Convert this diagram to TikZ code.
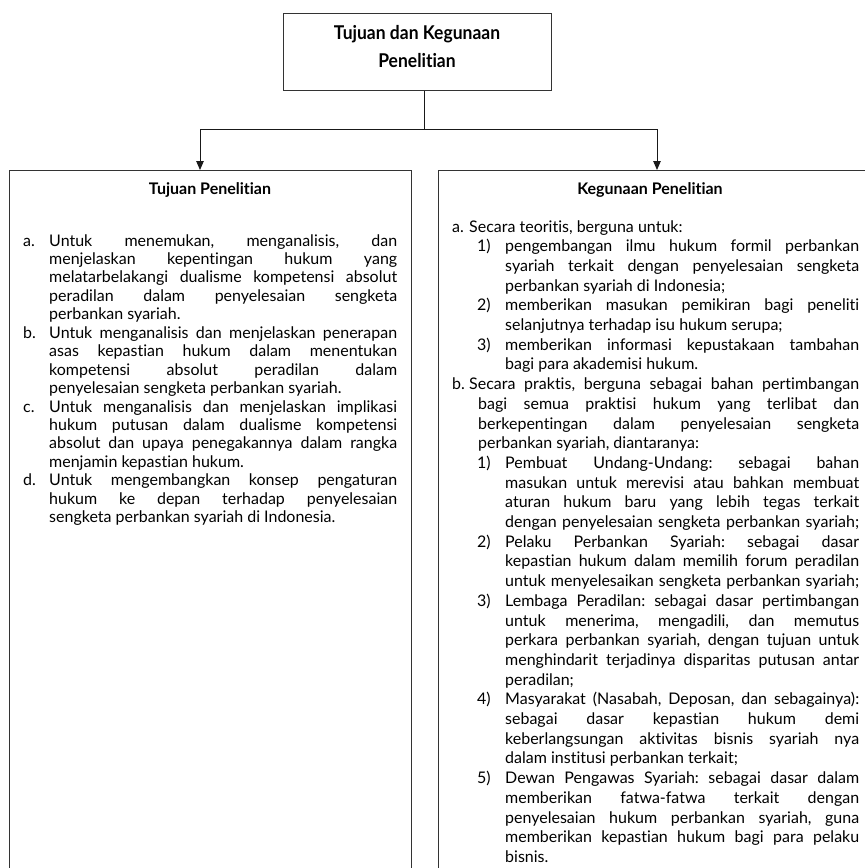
\documentclass[tikz,border=0pt]{standalone}
\usepackage{fontspec}
\setmainfont{Lato}[Ligatures={NoCommon,NoRare}]
\newfontfamily\titlefont{Lato}[FakeStretch=0.92,Ligatures={NoCommon,NoRare}]
\usetikzlibrary{arrows.meta}
\newcommand\lfont{\fontsize{16}{18.45}\selectfont\frenchspacing}
\newcommand\rfont{\fontsize{16}{19.7}\selectfont\frenchspacing}
\newcommand\J[3]{\noindent\hspace*{#1}\makebox[#2][s]{#3}\par}
\newcommand\N[2]{\noindent\hspace*{#1}#2\par}
\newcommand\Lb[2]{\llap{\makebox[#1][l]{#2}}}
\begin{document}
\begin{tikzpicture}[x=1pt,y=-1pt,
  framebox/.style={draw=black!80, line width=1.1pt, anchor=north west, inner sep=0pt},
  conn/.style={draw=black!90, line width=0.9pt},
  arr/.style={conn, -{Triangle[length=9pt,width=7.5pt]}},
  txt/.style={anchor=base west, inner sep=0pt},
  head/.style={anchor=base, inner sep=0pt, font=\fontsize{16}{19}\selectfont\bfseries}]
\useasboundingbox (0,0) rectangle (865,868);
\clip (0,0) rectangle (865,868);
\fill[white] (0,0) rectangle (865,868);

% boxes
\node[framebox, minimum width=268pt, minimum height=77pt] (top) at (283,13) {};
\node[framebox, minimum width=402pt, minimum height=720pt] (left) at (9,170) {};
\node[framebox, minimum width=430pt, minimum height=720pt] (right) at (438,170) {};

% title
\node[anchor=base, inner sep=0pt] (title) at (417,39)
  {\parbox[t]{250pt}{\centering\titlefont\bfseries\fontsize{19}{28.5}\selectfont Tujuan dan Kegunaan\\Penelitian}};

% connectors
\coordinate (junc) at (424,129);
\coordinate (jl) at (200,129);
\coordinate (jr) at (657,129);
\draw[conn] (top.south -| junc) -- (junc);
\draw[conn] (jl) -- (jr);
\draw[arr] (jl) -- (jl |- left.north);
\draw[arr] (jr) -- (jr |- right.north);

% headings
\node[head] (lhead) at (210,194) {Tujuan Penelitian};
\node[head] (rhead) at (650,194) {Kegunaan Penelitian};

% left column
\node[txt] (ltext) at (23,246) {\parbox[t]{374pt}{\lfont
\J{26pt}{348pt}{\Lb{26pt}{a.}Untuk menemukan, menganalisis, dan}
\J{26pt}{348pt}{menjelaskan kepentingan hukum yang}
\J{26pt}{348pt}{melatarbelakangi dualisme kompetensi absolut}
\J{26pt}{348pt}{peradilan dalam penyelesaian sengketa}
\N{26pt}{perbankan syariah.}
\J{26pt}{348pt}{\Lb{26pt}{b.}Untuk menganalisis dan menjelaskan penerapan}
\J{26pt}{348pt}{asas kepastian hukum dalam menentukan}
\J{26pt}{348pt}{kompetensi absolut peradilan dalam}
\N{26pt}{penyelesaian sengketa perbankan syariah.}
\J{26pt}{348pt}{\Lb{26pt}{c.}Untuk menganalisis dan menjelaskan implikasi}
\J{26pt}{348pt}{hukum putusan dalam dualisme kompetensi}
\J{26pt}{348pt}{absolut dan upaya penegakannya dalam rangka}
\N{26pt}{menjamin kepastian hukum.}
\J{26pt}{348pt}{\Lb{26pt}{d.}Untuk mengembangkan konsep pengaturan}
\J{26pt}{348pt}{hukum ke depan terhadap penyelesaian}
\N{26pt}{sengketa perbankan syariah di Indonesia.}
}};

% right column
\node[txt] (rtext) at (452,232) {\parbox[t]{407pt}{\rfont
\N{17pt}{\Lb{17pt}{a.}Secara teoritis, berguna untuk:}
\J{53pt}{354pt}{\Lb{28pt}{1)}pengembangan ilmu hukum formil perbankan}
\J{53pt}{354pt}{syariah terkait dengan penyelesaian sengketa}
\N{53pt}{perbankan syariah di Indonesia;}
\J{53pt}{354pt}{\Lb{28pt}{2)}memberikan masukan pemikiran bagi peneliti}
\N{53pt}{selanjutnya terhadap isu hukum serupa;}
\J{53pt}{354pt}{\Lb{28pt}{3)}memberikan informasi kepustakaan tambahan}
\N{53pt}{bagi para akademisi hukum.}
\J{17pt}{390pt}{\Lb{17pt}{b.}Secara praktis, berguna sebagai bahan pertimbangan}
\J{26pt}{381pt}{bagi semua praktisi hukum yang terlibat dan}
\J{26pt}{381pt}{berkepentingan dalam penyelesaian sengketa}
\N{26pt}{perbankan syariah, diantaranya:}
\J{53pt}{354pt}{\Lb{28pt}{1)}Pembuat Undang-Undang: sebagai bahan}
\J{53pt}{354pt}{masukan untuk merevisi atau bahkan membuat}
\J{53pt}{354pt}{aturan hukum baru yang lebih tegas terkait}
\J{53pt}{354pt}{dengan penyelesaian sengketa perbankan syariah;}
\J{53pt}{354pt}{\Lb{28pt}{2)}Pelaku Perbankan Syariah: sebagai dasar}
\J{53pt}{354pt}{kepastian hukum dalam memilih forum peradilan}
\J{53pt}{354pt}{untuk menyelesaikan sengketa perbankan syariah;}
\J{53pt}{354pt}{\Lb{28pt}{3)}Lembaga Peradilan: sebagai dasar pertimbangan}
\J{53pt}{354pt}{untuk menerima, mengadili, dan memutus}
\J{53pt}{354pt}{perkara perbankan syariah, dengan tujuan untuk}
\J{53pt}{354pt}{menghindarit terjadinya disparitas putusan antar}
\N{53pt}{peradilan;}
\J{53pt}{354pt}{\Lb{28pt}{4)}Masyarakat (Nasabah, Deposan, dan sebagainya):}
\J{53pt}{354pt}{sebagai dasar kepastian hukum demi}
\J{53pt}{354pt}{keberlangsungan aktivitas bisnis syariah nya}
\N{53pt}{dalam institusi perbankan terkait;}
\J{53pt}{354pt}{\Lb{28pt}{5)}Dewan Pengawas Syariah: sebagai dasar dalam}
\J{53pt}{354pt}{memberikan fatwa-fatwa terkait dengan}
\J{53pt}{354pt}{penyelesaian hukum perbankan syariah, guna}
\J{53pt}{354pt}{memberikan kepastian hukum bagi para pelaku}
\N{53pt}{bisnis.}
}};
\end{tikzpicture}
\end{document}
